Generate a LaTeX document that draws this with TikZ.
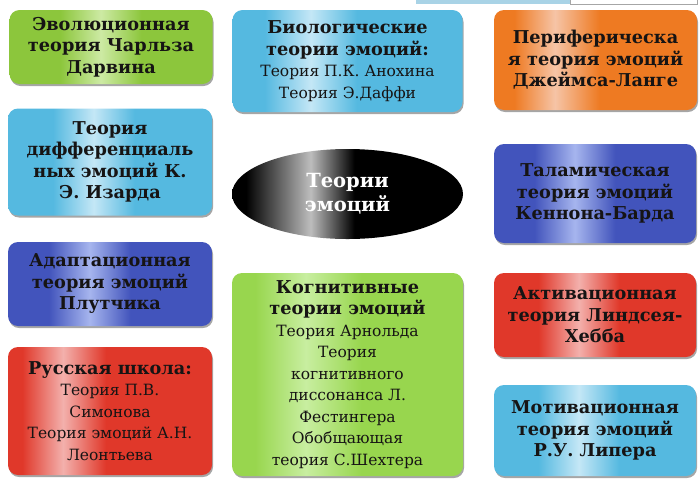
\documentclass[tikz,border=0pt]{standalone}
\usepackage{fontspec}
\setmainfont{DejaVu Serif}
\usetikzlibrary{shadows,shapes.geometric}
\definecolor{txt}{HTML}{161414}
\definecolor{gA}{HTML}{8CC63C}\definecolor{gB}{HTML}{CDEAA4}
\definecolor{cA}{HTML}{55B9E0}\definecolor{cB}{HTML}{C4E7F6}
\definecolor{oA}{HTML}{EE7A22}\definecolor{oB}{HTML}{F6C4A6}
\definecolor{pA}{HTML}{4254BC}\definecolor{pB}{HTML}{A6B5EE}
\definecolor{rA}{HTML}{E0382A}\definecolor{rB}{HTML}{F3B0AC}
\definecolor{lA}{HTML}{98D64E}\definecolor{lB}{HTML}{C8EEA0}
\definecolor{eB}{HTML}{BDBDBD}
\definecolor{strip}{HTML}{A9D3E6}
% stops: box fraction p maps to 25+p/2 bp
\pgfdeclarehorizontalshading{shG}{100bp}{color(0bp)=(gA); color(37.5bp)=(gA); color(47.5bp)=(gB); color(57.5bp)=(gA); color(100bp)=(gA)}
\pgfdeclarehorizontalshading{shC}{100bp}{color(0bp)=(cA); color(36bp)=(cA); color(46bp)=(cB); color(56bp)=(cA); color(100bp)=(cA)}
\pgfdeclarehorizontalshading{shCb}{100bp}{color(0bp)=(cA); color(32bp)=(cA); color(42bp)=(cB); color(52bp)=(cA); color(100bp)=(cA)}
\pgfdeclarehorizontalshading{shO}{100bp}{color(0bp)=(oA); color(30bp)=(oA); color(40bp)=(oB); color(51bp)=(oA); color(100bp)=(oA)}
\pgfdeclarehorizontalshading{shP}{100bp}{color(0bp)=(pA); color(35bp)=(pA); color(45bp)=(pB); color(55bp)=(pA); color(100bp)=(pA)}
\pgfdeclarehorizontalshading{shR}{100bp}{color(0bp)=(rA); color(28.5bp)=(rA); color(38.5bp)=(rB); color(49bp)=(rA); color(100bp)=(rA)}
\pgfdeclarehorizontalshading{shRr}{100bp}{color(0bp)=(rA); color(36bp)=(rA); color(46bp)=(rB); color(56bp)=(rA); color(100bp)=(rA)}
\pgfdeclarehorizontalshading{shL}{100bp}{color(0bp)=(lA); color(30bp)=(lA); color(41bp)=(lB); color(53bp)=(lA); color(100bp)=(lA)}
\pgfdeclarehorizontalshading{shE}{100bp}{color(0bp)=(black); color(28bp)=(black); color(42bp)=(eB); color(51.5bp)=(black); color(100bp)=(black)}
\tikzset{
  box/.style={rectangle, rounded corners=10pt, align=center, text=txt, inner sep=0pt,
    font=\fontsize{15.5}{21.5}\selectfont,
    drop shadow={shadow xshift=1pt, shadow yshift=-2pt, opacity=.35, fill=black}},
}
\newcommand{\bt}[1]{{\fontsize{17.7}{21.5}\selectfont\bfseries #1}}
\begin{document}
\begin{tikzpicture}[x=1pt,y=-1pt]
\useasboundingbox (0,0) rectangle (700,483);
\fill[white] (0,0) rectangle (700,483);
\fill[strip] (416,0) rectangle (570,3.5);
\draw[gray!70, line width=0.8pt] (570,-2) rectangle (697,4);
\node[box, shading=shG, minimum width=203pt, minimum height=74pt] (evo) at (111,47)
  {\bt{Эволюционная}\\\bt{теория Чарльза}\\\bt{Дарвина}};
\node[box, shading=shC, minimum width=204pt, minimum height=107pt] (izard) at (110,162)
  {\bt{Теория}\\\bt{дифференциаль}\\\bt{ных эмоций К.}\\\bt{Э. Изарда}};
\node[box, shading=shCb, minimum width=230pt, minimum height=102pt] (bio) at (347.5,61)
  {\bt{Биологические}\\\bt{теории эмоций:}\\Теория П.К. Анохина\\Теория Э.Даффи};
\node[ellipse, shading=shE, minimum width=231pt, minimum height=90pt, inner sep=0pt,
  align=center, text=white, font=\fontsize{19.5}{24}\selectfont\bfseries] (core) at (347.5,194)
  {Теории\\эмоций};
\node[box, shading=shO, minimum width=203pt, minimum height=100pt] (per) at (595.5,60)
  {\bt{Периферическа}\\\bt{я теория эмоций}\\\bt{Джеймса-Ланге}};
\node[box, shading=shP, minimum width=202pt, minimum height=99pt] (tal) at (595,193.5)
  {\bt{Таламическая}\\\bt{теория эмоций}\\\bt{Кеннона-Барда}};
\node[box, shading=shP, minimum width=204pt, minimum height=84pt] (adapt) at (110,284)
  {\bt{Адаптационная}\\\bt{теория эмоций}\\\bt{Плутчика}};
\node[box, shading=shR, minimum width=204pt, minimum height=128pt] (rus) at (110,411)
  {\bt{Русская школа:}\\Теория П.В.\\Симонова\\Теория эмоций А.Н.\\Леонтьева};
\node[box, shading=shL, minimum width=231pt, minimum height=203pt] (cog) at (347.5,374.5)
  {\bt{Когнитивные}\\\bt{теории эмоций}\\Теория Арнольда\\Теория\\когнитивного\\диссонанса Л.\\Фестингера\\Обобщающая\\теория С.Шехтера};
\node[box, shading=shRr, minimum width=202pt, minimum height=84pt] (act) at (595,315)
  {\bt{Активационная}\\\bt{теория Линдсея-}\\\bt{Хебба}};
\node[box, shading=shC, minimum width=202pt, minimum height=91pt] (mot) at (595,430.5)
  {\bt{Мотивационная}\\\bt{теория эмоций}\\\bt{Р.У. Липера}};
\end{tikzpicture}
\end{document}
